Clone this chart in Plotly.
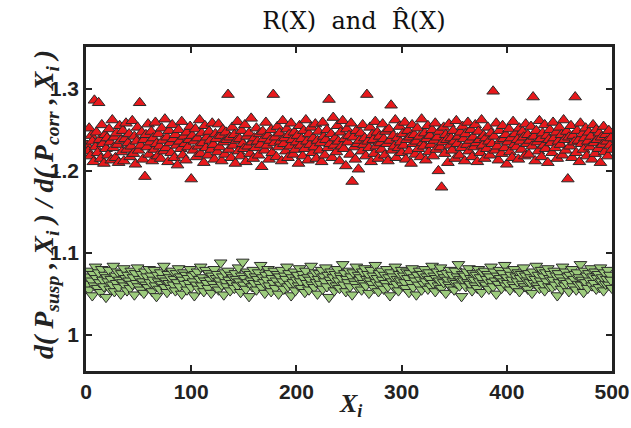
import plotly.graph_objects as go

x_index = list(range(1, 501))

r_values = [
1.231, 1.224, 1.252, 1.218, 1.243, 1.236, 1.211, 1.286, 1.229, 1.247, 1.222, 1.283, 1.238, 1.215, 1.256, 1.233, 1.209, 1.244, 1.227, 1.240,
1.219, 1.251, 1.235, 1.213, 1.262, 1.228, 1.241, 1.216, 1.246, 1.232, 1.210, 1.255, 1.237, 1.223, 1.249, 1.212, 1.239, 1.258, 1.226, 1.234,
1.245, 1.217, 1.230, 1.261, 1.221, 1.242, 1.208, 1.236, 1.253, 1.225, 1.283, 1.231, 1.247, 1.214, 1.238, 1.193, 1.244, 1.229, 1.257, 1.220,
1.235, 1.248, 1.212, 1.240, 1.226, 1.259, 1.233, 1.218, 1.245, 1.230, 1.215, 1.252, 1.237, 1.224, 1.263, 1.228, 1.241, 1.211, 1.249, 1.234,
1.222, 1.256, 1.239, 1.216, 1.244, 1.231, 1.207, 1.250, 1.236, 1.227, 1.260, 1.219, 1.242, 1.233, 1.213, 1.247, 1.229, 1.238, 1.254, 1.190,
1.243, 1.225, 1.236, 1.251, 1.217, 1.240, 1.230, 1.262, 1.221, 1.246, 1.234, 1.210, 1.255, 1.228, 1.241, 1.219, 1.248, 1.237, 1.226, 1.258,
1.232, 1.214, 1.245, 1.239, 1.223, 1.257, 1.229, 1.243, 1.212, 1.250, 1.235, 1.220, 1.247, 1.238, 1.293, 1.226, 1.241, 1.216, 1.253, 1.231,
1.244, 1.209, 1.237, 1.260, 1.224, 1.239, 1.218, 1.249, 1.233, 1.227, 1.256, 1.211, 1.242, 1.230, 1.246, 1.221, 1.264, 1.235, 1.215, 1.240,
1.228, 1.252, 1.236, 1.219, 1.245, 1.232, 1.205, 1.248, 1.239, 1.225, 1.259, 1.231, 1.243, 1.214, 1.237, 1.250, 1.222, 1.293, 1.234, 1.241,
1.217, 1.254, 1.229, 1.246, 1.236, 1.212, 1.261, 1.233, 1.240, 1.224, 1.251, 1.216, 1.244, 1.230, 1.258, 1.238, 1.220, 1.247, 1.226, 1.235,
1.243, 1.209, 1.255, 1.231, 1.239, 1.218, 1.249, 1.227, 1.262, 1.236, 1.213, 1.245, 1.232, 1.253, 1.222, 1.240, 1.229, 1.257, 1.215, 1.237,
1.248, 1.225, 1.234, 1.211, 1.259, 1.242, 1.219, 1.238, 1.250, 1.228, 1.287, 1.233, 1.245, 1.216, 1.265, 1.231, 1.240, 1.223, 1.255, 1.236,
1.212, 1.247, 1.230, 1.261, 1.227, 1.239, 1.206, 1.251, 1.235, 1.243, 1.220, 1.258, 1.187, 1.241, 1.229, 1.214, 1.249, 1.233, 1.202, 1.237,
1.246, 1.224, 1.256, 1.232, 1.240, 1.218, 1.293, 1.236, 1.228, 1.253, 1.211, 1.244, 1.238, 1.221, 1.260, 1.230, 1.247, 1.215, 1.242, 1.234,
1.226, 1.257, 1.239, 1.219, 1.248, 1.233, 1.212, 1.251, 1.237, 1.280, 1.225, 1.243, 1.230, 1.262, 1.216, 1.240, 1.228, 1.254, 1.235, 1.222,
1.245, 1.231, 1.259, 1.214, 1.238, 1.249, 1.224, 1.241, 1.209, 1.256, 1.233, 1.244, 1.220, 1.236, 1.252, 1.227, 1.242, 1.217, 1.263, 1.234,
1.230, 1.246, 1.213, 1.239, 1.255, 1.223, 1.243, 1.232, 1.250, 1.218, 1.237, 1.258, 1.226, 1.241, 1.200, 1.248, 1.229, 1.180, 1.235, 1.253,
1.221, 1.244, 1.238, 1.210, 1.257, 1.231, 1.240, 1.225, 1.249, 1.236, 1.215, 1.261, 1.233, 1.242, 1.219, 1.247, 1.228, 1.254, 1.239, 1.212,
1.245, 1.232, 1.259, 1.224, 1.237, 1.250, 1.217, 1.241, 1.229, 1.256, 1.234, 1.211, 1.248, 1.238, 1.222, 1.262, 1.231, 1.243, 1.215, 1.240,
1.227, 1.253, 1.236, 1.219, 1.246, 1.233, 1.297, 1.242, 1.225, 1.258, 1.230, 1.213, 1.249, 1.237, 1.221, 1.255, 1.239, 1.228, 1.244, 1.208,
1.235, 1.251, 1.223, 1.240, 1.216, 1.260, 1.232, 1.245, 1.229, 1.238, 1.214, 1.252, 1.236, 1.226, 1.248, 1.241, 1.218, 1.257, 1.233, 1.244,
1.220, 1.237, 1.254, 1.230, 1.290, 1.242, 1.212, 1.249, 1.235, 1.224, 1.261, 1.239, 1.217, 1.246, 1.231, 1.256, 1.227, 1.243, 1.210, 1.238,
1.250, 1.234, 1.222, 1.259, 1.240, 1.228, 1.247, 1.215, 1.236, 1.253, 1.232, 1.244, 1.219, 1.262, 1.238, 1.225, 1.248, 1.190, 1.241, 1.230,
1.255, 1.216, 1.243, 1.235, 1.290, 1.222, 1.249, 1.237, 1.211, 1.258, 1.233, 1.245, 1.226, 1.240, 1.252, 1.218, 1.236, 1.247, 1.229, 1.242,
1.214, 1.256, 1.234, 1.221, 1.250, 1.238, 1.227, 1.246, 1.210, 1.241, 1.232, 1.254, 1.223, 1.244, 1.236, 1.218, 1.249, 1.231, 1.240, 1.226,
]

rhat_values = [
1.062, 1.071, 1.055, 1.078, 1.066, 1.048, 1.074, 1.060, 1.083, 1.069, 1.057, 1.076, 1.064, 1.052, 1.080, 1.067, 1.059, 1.073, 1.046, 1.070,
1.065, 1.079, 1.056, 1.068, 1.061, 1.084, 1.053, 1.072, 1.063, 1.077, 1.058, 1.067, 1.050, 1.075, 1.064, 1.081, 1.060, 1.069, 1.054, 1.073,
1.066, 1.057, 1.078, 1.062, 1.070, 1.049, 1.075, 1.063, 1.082, 1.059, 1.068, 1.055, 1.074, 1.065, 1.051, 1.077, 1.061, 1.071, 1.058, 1.080,
1.064, 1.072, 1.053, 1.067, 1.079, 1.060, 1.047, 1.073, 1.065, 1.056, 1.076, 1.062, 1.069, 1.084, 1.058, 1.066, 1.052, 1.074, 1.063, 1.070,
1.057, 1.078, 1.061, 1.068, 1.054, 1.075, 1.064, 1.081, 1.059, 1.071, 1.050, 1.067, 1.076, 1.062, 1.073, 1.055, 1.069, 1.063, 1.080, 1.058,
1.072, 1.065, 1.048, 1.074, 1.061, 1.077, 1.056, 1.068, 1.083, 1.060, 1.070, 1.053, 1.066, 1.079, 1.063, 1.057, 1.075, 1.067, 1.051, 1.072,
1.062, 1.080, 1.058, 1.069, 1.074, 1.055, 1.066, 1.088, 1.061, 1.071, 1.049, 1.076, 1.064, 1.059, 1.078, 1.067, 1.054, 1.073, 1.063, 1.070,
1.057, 1.075, 1.068, 1.060, 1.082, 1.065, 1.052, 1.072, 1.089, 1.061, 1.069, 1.056, 1.077, 1.064, 1.047, 1.074, 1.066, 1.059, 1.079, 1.063,
1.071, 1.055, 1.068, 1.076, 1.062, 1.085, 1.058, 1.070, 1.064, 1.051, 1.073, 1.067, 1.080, 1.060, 1.075, 1.053, 1.069, 1.063, 1.078, 1.057,
1.066, 1.074, 1.050, 1.071, 1.061, 1.079, 1.065, 1.056, 1.072, 1.068, 1.083, 1.059, 1.075, 1.062, 1.048, 1.070, 1.064, 1.077, 1.054, 1.067,
1.073, 1.060, 1.081, 1.065, 1.057, 1.074, 1.069, 1.052, 1.078, 1.063, 1.070, 1.055, 1.067, 1.084, 1.061, 1.072, 1.058, 1.076, 1.064, 1.050,
1.068, 1.075, 1.062, 1.079, 1.056, 1.071, 1.065, 1.082, 1.059, 1.073, 1.046, 1.067, 1.077, 1.063, 1.070, 1.054, 1.074, 1.060, 1.080, 1.066,
1.057, 1.072, 1.069, 1.086, 1.061, 1.075, 1.053, 1.068, 1.064, 1.078, 1.059, 1.071, 1.049, 1.076, 1.065, 1.062, 1.083, 1.058, 1.073, 1.067,
1.070, 1.055, 1.077, 1.063, 1.081, 1.060, 1.068, 1.074, 1.051, 1.066, 1.079, 1.062, 1.072, 1.057, 1.085, 1.064, 1.069, 1.053, 1.075, 1.061,
1.078, 1.067, 1.056, 1.073, 1.063, 1.080, 1.059, 1.070, 1.048, 1.076, 1.065, 1.071, 1.058, 1.083, 1.062, 1.068, 1.054, 1.074, 1.066, 1.079,
1.060, 1.072, 1.064, 1.057, 1.077, 1.069, 1.052, 1.075, 1.063, 1.081, 1.058, 1.070, 1.066, 1.049, 1.073, 1.061, 1.078, 1.067, 1.055, 1.074,
1.062, 1.080, 1.065, 1.071, 1.056, 1.076, 1.068, 1.059, 1.084, 1.063, 1.072, 1.053, 1.069, 1.077, 1.060, 1.066, 1.082, 1.057, 1.074, 1.064,
1.070, 1.051, 1.075, 1.067, 1.061, 1.079, 1.058, 1.073, 1.065, 1.055, 1.078, 1.063, 1.071, 1.086, 1.060, 1.068, 1.047, 1.074, 1.066, 1.072,
1.059, 1.077, 1.064, 1.081, 1.062, 1.069, 1.054, 1.075, 1.067, 1.060, 1.073, 1.057, 1.080, 1.065, 1.070, 1.052, 1.076, 1.063, 1.078, 1.061,
1.068, 1.074, 1.056, 1.071, 1.083, 1.064, 1.059, 1.077, 1.066, 1.050, 1.072, 1.062, 1.079, 1.069, 1.057, 1.075, 1.065, 1.085, 1.060, 1.070,
1.063, 1.078, 1.055, 1.073, 1.067, 1.061, 1.080, 1.058, 1.071, 1.065, 1.076, 1.053, 1.069, 1.074, 1.062, 1.082, 1.059, 1.072, 1.066, 1.056,
1.075, 1.064, 1.070, 1.051, 1.077, 1.063, 1.068, 1.084, 1.060, 1.073, 1.057, 1.066, 1.079, 1.062, 1.071, 1.054, 1.076, 1.065, 1.081, 1.059,
1.069, 1.074, 1.058, 1.067, 1.078, 1.061, 1.072, 1.048, 1.075, 1.064, 1.070, 1.056, 1.083, 1.066, 1.060, 1.077, 1.063, 1.071, 1.053, 1.073,
1.065, 1.080, 1.059, 1.068, 1.074, 1.055, 1.076, 1.062, 1.070, 1.086, 1.061, 1.067, 1.052, 1.078, 1.064, 1.072, 1.057, 1.075, 1.066, 1.081,
1.060, 1.071, 1.063, 1.077, 1.056, 1.069, 1.074, 1.058, 1.082, 1.065, 1.070, 1.054, 1.076, 1.062, 1.068, 1.079, 1.061, 1.073, 1.067, 1.057,
]

x_ticks = [0, 100, 200, 300, 400, 500]
y_ticks = [1.0, 1.1, 1.2, 1.3]
y_tick_labels = ["1", "1.1", "1.2", "1.3"]

fig = go.Figure()
fig.add_trace(go.Scatter(
    x=x_index, y=r_values, mode="markers", name="R(X)",
    marker=dict(symbol="triangle-up", size=11, color="#E8191C",
                line=dict(color="#2a2a2a", width=1)),
))
fig.add_trace(go.Scatter(
    x=x_index, y=rhat_values, mode="markers", name="R̂(X)",
    marker=dict(symbol="triangle-down", size=11, color="#9DCB7D",
                line=dict(color="#2a2a2a", width=1)),
))

axis_common = dict(
    showline=True, linecolor="#222", linewidth=2.5, mirror="ticks",
    ticks="inside", ticklen=6, tickwidth=1.5, tickcolor="#222",
    showgrid=False, zeroline=False, automargin=False,
)

serif = "DejaVu Serif, Liberation Serif, serif"

fig.update_layout(
    width=631, height=428,
    margin=dict(l=86, r=19, t=47, b=57),
    paper_bgcolor="white", plot_bgcolor="white",
    showlegend=False,
    title=dict(text="R(X)  and  R̂(X)", x=0.561, xanchor="center", y=0.952, yanchor="middle",
               font=dict(family=serif, size=24, color="#111")),
    xaxis=dict(range=[0, 500], tickvals=x_ticks, ticktext=[str(v) for v in x_ticks],
               tickfont=dict(family="Liberation Sans, Arial, sans-serif", size=21, color="#222", weight="bold"),
               **axis_common),
    yaxis=dict(range=[0.956, 1.351], tickvals=y_ticks, ticktext=y_tick_labels,
               tickfont=dict(family="Liberation Sans, Arial, sans-serif", size=21, color="#222", weight="bold"),
               **axis_common),
    annotations=[
        dict(text="<i><b>d( P<sub>susp</sub> , X<sub>i</sub> ) / d( P<sub>corr</sub> , X<sub>i</sub> )</b></i>",
             xref="paper", yref="paper", x=-0.078, y=0.515, xanchor="center", yanchor="middle",
             textangle=-90, showarrow=False,
             font=dict(family="Liberation Serif, serif", size=28, color="#222")),
        dict(text="<i><b>X<sub>i</sub></b></i>",
             xref="paper", yref="paper", x=0.502, y=-0.105, xanchor="center", yanchor="middle",
             showarrow=False,
             font=dict(family="Liberation Serif, serif", size=26, color="#222")),
    ],
)

fig.write_html(
    "out.html",
    config={"displayModeBar": False},
    post_script="document.body.style.margin='0';document.body.style.overflow='hidden';",
)
